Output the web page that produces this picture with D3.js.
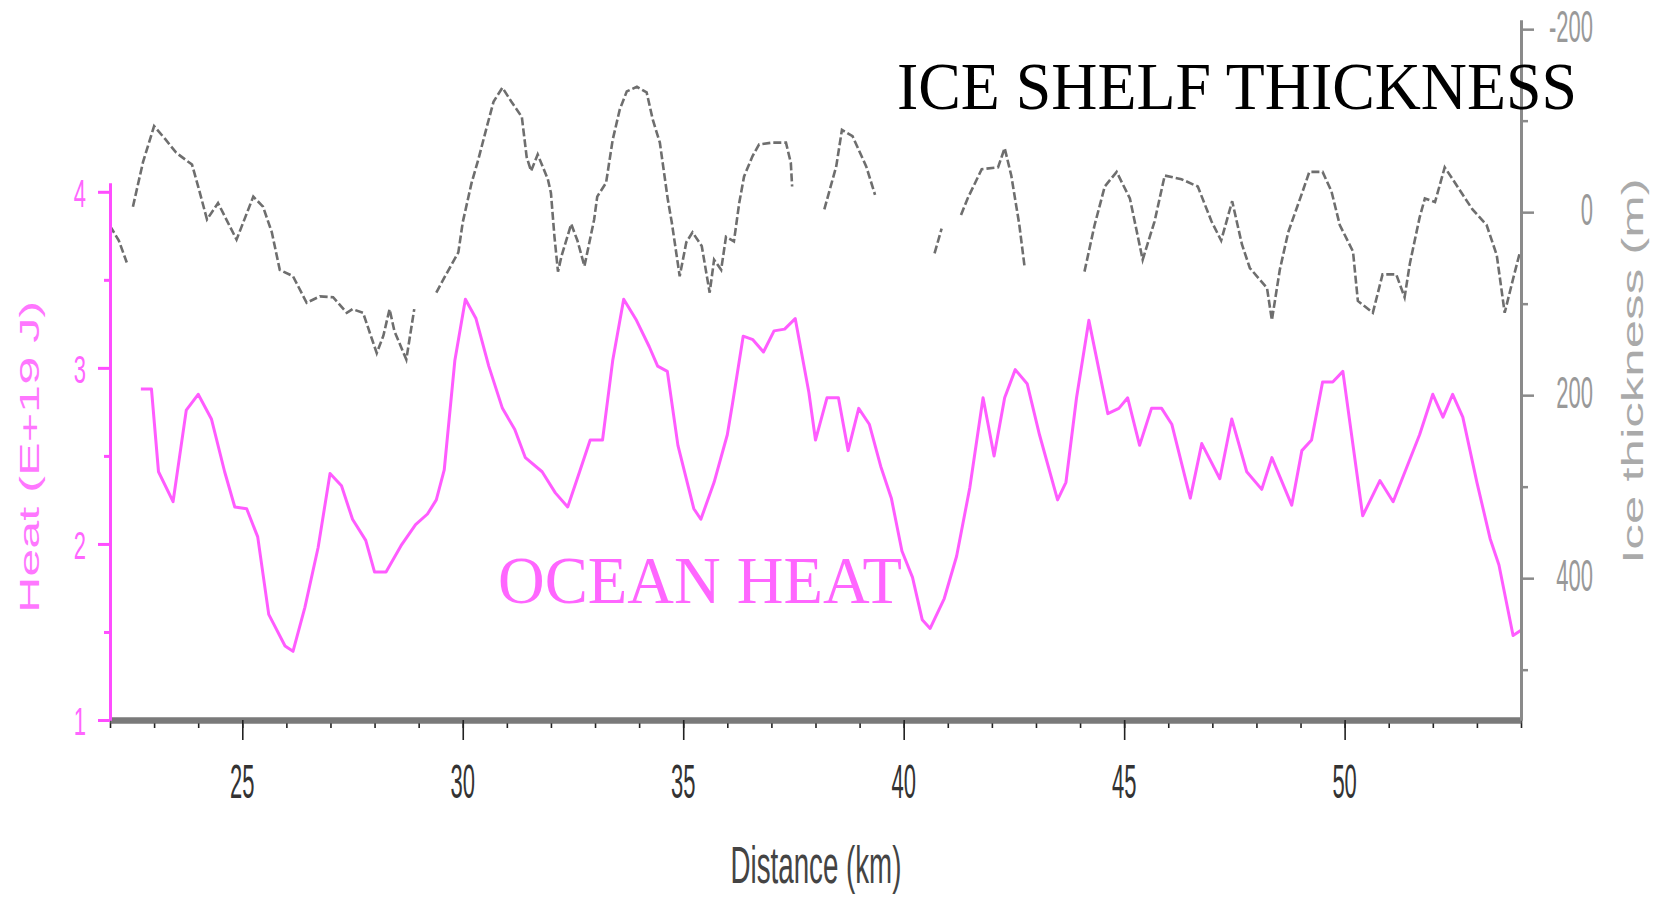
<!DOCTYPE html>
<html>
<head>
<meta charset="utf-8">
<script src="https://cdn.jsdelivr.net/npm/d3@7"></script>
<style>
  body { margin: 0; background: #fff; }
  #root { width: 1659px; height: 908px; }
</style>
</head>
<body>
<div id="root"></div>
<script>
// Ocean heat (E+19 J) along distance (km)
const heatDist = [22.7, 22.94, 23.1, 23.43, 23.73, 24.0, 24.3, 24.6, 24.83, 25.1, 25.35, 25.6, 25.97, 26.15, 26.42, 26.72, 26.99, 27.25, 27.5, 27.8,
  28.0, 28.26, 28.6, 28.93, 29.2, 29.4, 29.58, 29.82, 30.06, 30.3, 30.59, 30.9, 31.18, 31.42, 31.8, 32.1, 32.38, 32.65, 32.89, 33.17,
  33.4, 33.65, 33.94, 34.23, 34.42, 34.64, 34.88, 35.24, 35.4, 35.7, 36.0, 36.12, 36.36, 36.58, 36.82, 37.06, 37.3, 37.54, 37.85, 38.0,
  38.26, 38.52, 38.74, 38.98, 39.22, 39.48, 39.72, 39.96, 40.2, 40.42, 40.6, 40.92, 41.2, 41.5, 41.8, 42.05, 42.29, 42.53, 42.8, 43.08,
  43.49, 43.68, 43.92, 44.2, 44.63, 44.88, 45.08, 45.35, 45.62, 45.85, 46.08, 46.5, 46.76, 47.17, 47.44, 47.78, 48.12, 48.35, 48.8, 49.03,
  49.25, 49.5, 49.73, 49.96, 50.41, 50.8, 51.1, 51.4, 51.7, 52.0, 52.23, 52.45, 52.68, 53.0, 53.3, 53.5, 53.82, 54.0];
const heatVals = [2.88, 2.88, 2.41, 2.24, 2.76, 2.85, 2.71, 2.41, 2.21, 2.20, 2.04, 1.60, 1.42, 1.39, 1.64, 1.98, 2.40, 2.33, 2.14, 2.02,
  1.84, 1.84, 1.99, 2.11, 2.17, 2.25, 2.42, 3.04, 3.39, 3.28, 3.01, 2.77, 2.65, 2.49, 2.41, 2.29, 2.21, 2.41, 2.59, 2.59,
  3.04, 3.39, 3.27, 3.12, 3.01, 2.98, 2.56, 2.20, 2.14, 2.35, 2.62, 2.80, 3.18, 3.16, 3.09, 3.21, 3.22, 3.28, 2.86, 2.59,
  2.83, 2.83, 2.53, 2.77, 2.68, 2.44, 2.26, 1.96, 1.81, 1.57, 1.52, 1.69, 1.93, 2.32, 2.83, 2.50, 2.83, 2.99, 2.91, 2.62,
  2.25, 2.35, 2.83, 3.27, 2.74, 2.77, 2.83, 2.56, 2.77, 2.77, 2.68, 2.26, 2.57, 2.37, 2.71, 2.41, 2.31, 2.49, 2.22, 2.53,
  2.59, 2.92, 2.92, 2.98, 2.16, 2.36, 2.24, 2.43, 2.62, 2.85, 2.72, 2.85, 2.72, 2.35, 2.03, 1.88, 1.48, 1.51];

// Ice shelf thickness (m), null = gap in the record
const iceDist = [22.0, 22.2, 22.38, 22.45, 22.52, 22.75, 23.0, 23.25, 23.5, 23.72, 23.86, 24.0, 24.2, 24.45, 24.87, 25.25, 25.47, 25.67, 25.85, 26.15,
  26.46, 26.76, 27.06, 27.37, 27.5, 27.74, 27.95, 28.05, 28.2, 28.34, 28.45, 28.72, 28.9, 29.1, 29.4, 29.6, 29.9, 30.0, 30.2, 30.35,
  30.55, 30.7, 30.9, 31.1, 31.34, 31.45, 31.55, 31.7, 31.93, 32.0, 32.08, 32.16, 32.24, 32.46, 32.6, 32.76, 32.98, 33.05, 33.25, 33.4,
  33.56, 33.72, 33.95, 34.17, 34.31, 34.47, 34.65, 34.74, 34.92, 35.07, 35.21, 35.42, 35.6, 35.7, 35.86, 35.97, 36.15, 36.27, 36.38, 36.57,
  36.72, 37.02, 37.33, 37.44, 37.47, 37.8, 38.2, 38.47, 38.6, 38.84, 39.15, 39.35, 40.0, 40.7, 40.86, 41.1, 41.3, 41.45, 41.77, 42.14,
  42.29, 42.44, 42.62, 42.74, 43.4, 44.1, 44.33, 44.56, 44.83, 45.13, 45.42, 45.69, 45.92, 46.3, 46.67, 46.98, 47.2, 47.45, 47.67, 47.85,
  48.24, 48.35, 48.53, 48.72, 49.05, 49.2, 49.5, 49.7, 49.89, 50.19, 50.3, 50.64, 50.86, 51.17, 51.36, 51.48, 51.7, 51.82, 52.05, 52.27,
  52.45, 52.68, 52.9, 53.22, 53.45, 53.63, 53.82, 53.98];
const iceVals = [15, 31, 55, null, -6, -55, -94, -80, -65, -57, -52, -28, 8, -10, 30, -17, -6, 22, 63, 70,
  99, 92, 93, 110, 106, 110, 140, 154, 135, 106, 130, 161, 106, null, 88, 70, 44, 11, -32, -57,
  -94, -121, -136, -121, -104, -60, -45, -63, -36, -21, 27, 65, 48, 13, 31, 59, 8, -17, -32, -79,
  -112, -132, -137, -131, -101, -76, -14, 11, 70, 33, 22, 37, 88, 52, 63, 27, 32, -10, -39, -61,
  -74, -76, -76, -54, -28, null, -3, -50, -90, -83, -50, -19, null, 45, 18, null, 3, -15, -47, -49,
  -70, -40, 13, 59, null, 65, 14, -28, -44, -15, 52, 10, -40, -36, -28, 10, 31, -12, 35, 61,
  83, 118, 63, 22, -23, -44, -44, -23, 14, 43, 97, 110, 68, 68, 93, 56, 6, -15, -11, -49,
  -36, -19, -3, 14, 47, 110, 73, 43];

const xMajor = [25, 30, 35, 40, 45, 50];
const xMinor = d3.range(22, 55, 1);
const heatMajor = [1, 2, 3, 4];
const heatMinor = [1.5, 2.5, 3.5];
const iceMajor = [-200, 0, 200, 400];
const iceMinor = [-100, 100, 300, 500];

const heatData = heatDist.map((d, i) => ({ x: d, v: heatVals[i] }));
const iceData = iceDist.map((d, i) => ({ x: d, v: iceVals[i] }));

const width = 1659, height = 908;
const svg = d3.select('#root').append('svg')
  .attr('width', width).attr('height', height);

const x = d3.scaleLinear().domain([22, 54]).range([110, 1521]);
const yHeat = d3.scaleLinear().domain([1, 4.05]).range([720, 183]);
const yIce = d3.scaleLinear().domain([-210, 555]).range([20, 720]);

const pink = '#ff4dff';
const grey = '#8a8a8a';
const sans = 'Liberation Sans, Arial, sans-serif';

// ice thickness line (dashed)
svg.append('path')
  .datum(iceData)
  .attr('fill', 'none')
  .attr('stroke', '#6e6e6e')
  .attr('stroke-width', 2.6)
  .attr('stroke-dasharray', '8,3')
  .attr('d', d3.line().defined(d => d.v !== null).x(d => x(d.x)).y(d => yIce(d.v)));

// ocean heat line
svg.append('path')
  .datum(heatData)
  .attr('fill', 'none')
  .attr('stroke', '#ff5cff')
  .attr('stroke-width', 3)
  .attr('stroke-linejoin', 'round')
  .attr('d', d3.line().x(d => x(d.x)).y(d => yHeat(d.v)));

// bottom axis
const gx = svg.append('g').attr('transform', 'translate(0,720)');
gx.call(d3.axisBottom(x).tickValues(xMinor).tickSize(8).tickFormat('').tickSizeOuter(0));
gx.append('g').call(d3.axisBottom(x).tickValues(xMajor).tickSize(20).tickFormat('').tickSizeOuter(0));
gx.selectAll('.tick line').attr('stroke', '#222').attr('stroke-width', 1.6);
gx.selectAll('.domain').attr('stroke', '#7a7a7a').attr('stroke-width', 6);

svg.selectAll('.xlab').data(xMajor).join('text')
  .attr('transform', d => `translate(${x(d)},798) scale(1,2.2)`)
  .attr('text-anchor', 'middle')
  .attr('font-family', sans).attr('font-size', 22)
  .attr('fill', '#333')
  .text(d => d);

svg.append('text')
  .attr('transform', 'translate(816,883) scale(1,1.85)')
  .attr('text-anchor', 'middle')
  .attr('font-family', sans).attr('font-size', 27.7)
  .attr('fill', '#444')
  .text('Distance (km)');

// left axis (heat)
const gl = svg.append('g').attr('transform', 'translate(110,0)');
gl.call(d3.axisLeft(yHeat).tickValues(heatMinor).tickSize(6).tickFormat('').tickSizeOuter(0));
gl.append('g').call(d3.axisLeft(yHeat).tickValues(heatMajor).tickSize(12).tickFormat('').tickSizeOuter(0));
gl.selectAll('.tick line').attr('stroke', pink).attr('stroke-width', 3);
gl.selectAll('.domain').attr('stroke', pink).attr('stroke-width', 3);

svg.selectAll('.hlab').data(heatMajor).join('text')
  .attr('transform', d => `translate(86,${yHeat(d) + 15}) scale(1,1.8)`)
  .attr('text-anchor', 'end')
  .attr('font-family', sans).attr('font-size', 22)
  .attr('fill', '#ff66ff')
  .text(d => d);

svg.append('text')
  .attr('transform', 'translate(39,457) rotate(-90) scale(1.8,1)')
  .attr('text-anchor', 'middle')
  .attr('font-family', sans).attr('font-size', 28)
  .attr('fill', '#ff77ff')
  .text('Heat (E+19 J)');

// right axis (ice thickness)
const gr = svg.append('g').attr('transform', 'translate(1521,0)');
gr.call(d3.axisRight(yIce).tickValues(iceMinor).tickSize(7).tickFormat('').tickSizeOuter(0));
gr.append('g').call(d3.axisRight(yIce).tickValues(iceMajor).tickSize(13).tickFormat('').tickSizeOuter(0));
gr.selectAll('.tick line').attr('stroke', grey).attr('stroke-width', 2.5);
gr.selectAll('.domain').attr('stroke', grey).attr('stroke-width', 3);

svg.selectAll('.ilab').data(iceMajor).join('text')
  .attr('transform', d => `translate(1593,${yIce(d) + 13}) scale(1,2)`)
  .attr('text-anchor', 'end')
  .attr('font-family', sans).attr('font-size', 22)
  .attr('fill', '#999')
  .text(d => d);

svg.append('text')
  .attr('transform', 'translate(1643,371) rotate(-90) scale(1.76,1)')
  .attr('text-anchor', 'middle')
  .attr('font-family', sans).attr('font-size', 29)
  .attr('fill', '#aaa')
  .text('Ice thickness (m)');

// annotations
svg.append('text')
  .attr('x', 897).attr('y', 109)
  .attr('textLength', 680).attr('lengthAdjust', 'spacingAndGlyphs')
  .attr('font-family', 'Liberation Serif, Times New Roman, serif')
  .attr('font-size', 67)
  .attr('fill', '#000')
  .text('ICE SHELF THICKNESS');

svg.append('text')
  .attr('x', 498).attr('y', 603)
  .attr('textLength', 404).attr('lengthAdjust', 'spacingAndGlyphs')
  .attr('font-family', 'Liberation Serif, Times New Roman, serif')
  .attr('font-size', 68)
  .attr('fill', '#ff66ff')
  .text('OCEAN HEAT');
</script>
</body>
</html>
